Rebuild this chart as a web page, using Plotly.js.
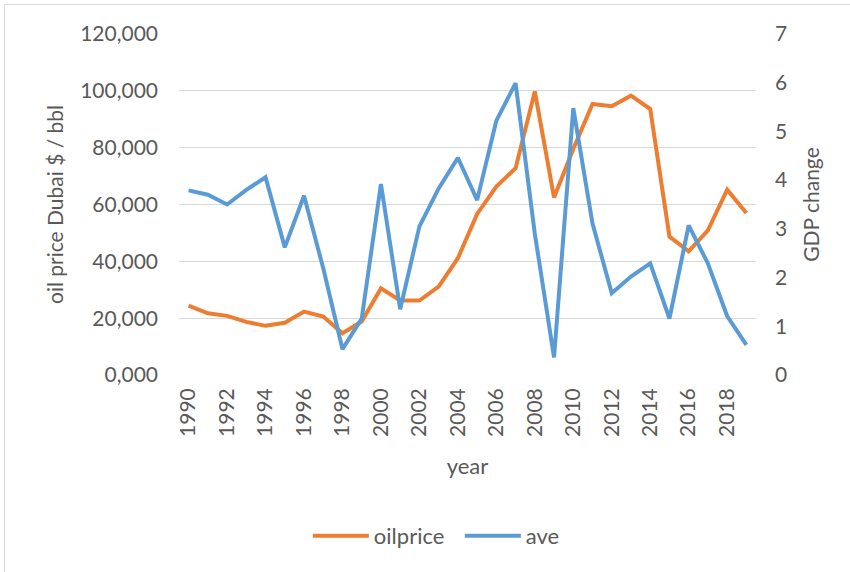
<!DOCTYPE html>
<html>
<head>
<meta charset="utf-8">
<script src="https://cdn.plot.ly/plotly-3.0.1.min.js"></script>
<style>
html,body{margin:0;padding:0;background:#fff;overflow:hidden;}
#chart{position:absolute;left:0;top:0;width:850px;height:572px;}
#frame{position:absolute;left:4px;top:4px;width:900px;height:600px;border:1px solid #d9d9d9;pointer-events:none;}
</style>
</head>
<body>
<div id="chart"></div>
<div id="frame"></div>
<script>
const years = [1990,1991,1992,1993,1994,1995,1996,1997,1998,1999,2000,2001,2002,2003,2004,
               2005,2006,2007,2008,2009,2010,2011,2012,2013,2014,2015,2016,2017,2018,2019];
const oilprice = [24.4,21.7,20.8,18.7,17.3,18.4,22.3,20.6,14.7,18.8,30.5,26.2,26.2,31.1,41.1,
                  56.7,66.3,72.8,99.8,62.5,79.5,95.4,94.6,98.3,93.6,48.7,43.5,50.9,65.2,57.0];
const ave = [3.79,3.70,3.50,3.80,4.06,2.62,3.68,2.19,0.53,1.16,3.92,1.35,3.05,3.83,4.46,
             3.59,5.22,5.99,2.90,0.36,5.48,3.11,1.68,2.02,2.29,1.16,3.07,2.29,1.21,0.62];

const FONT = "Lato, 'Open Sans', sans-serif";
const GREY = "#595959";

const traces = [
  {x: years, y: oilprice, name: "oilprice", type: "scatter", mode: "lines",
   line: {color: "#ED7D31", width: 4}, yaxis: "y"},
  {x: years, y: ave, name: "ave", type: "scatter", mode: "lines",
   line: {color: "#5B9BD5", width: 4}, yaxis: "y2"}
];

const layout = {
  width: 850, height: 572,
  margin: {l: 179, r: 94, t: 34, b: 197},
  paper_bgcolor: "#fff", plot_bgcolor: "#fff",
  separators: ", ",
  font: {family: FONT, size: 21, color: GREY},
  showlegend: true,
  legend: {orientation: "h", xref: "container", yref: "container",
           x: 0.541, xanchor: "center", y: 0.063, yanchor: "middle",
           font: {family: FONT, size: 22, color: GREY}, itemwidth: 56,
           entrywidth: 81},
  xaxis: {range: [1989.5, 2019.5], tickmode: "linear", tick0: 1990, dtick: 2,
          tickangle: -90, showgrid: false, zeroline: false, showline: false,
          ticks: "", ticklabelstandoff: 8,
          tickfont: {family: FONT, size: 21, color: GREY},
          title: {text: "year", font: {family: FONT, size: 22, color: GREY}, standoff: 22}},
  yaxis: {range: [0, 120], dtick: 20, tickformat: ".3f", showgrid: true,
          gridcolor: "#d9d9d9", gridwidth: 1.3, zeroline: false, showline: false, ticks: "",
          ticklabelstandoff: 20,
          tickfont: {family: FONT, size: 21, color: GREY},
          title: {text: "oil price Dubai $ / bbl", font: {family: FONT, size: 21, color: GREY}, standoff: 10}},
  yaxis2: {range: [0, 7], dtick: 1, overlaying: "y", side: "right", showgrid: false,
           zeroline: false, showline: false, ticks: "", ticklabelstandoff: 18,
           tickfont: {family: FONT, size: 21, color: GREY},
           title: {text: "GDP change", font: {family: FONT, size: 21, color: GREY}, standoff: 18}}
};

Plotly.newPlot("chart", traces, layout, {displayModeBar: false, staticPlot: true});
</script>
</body>
</html>
